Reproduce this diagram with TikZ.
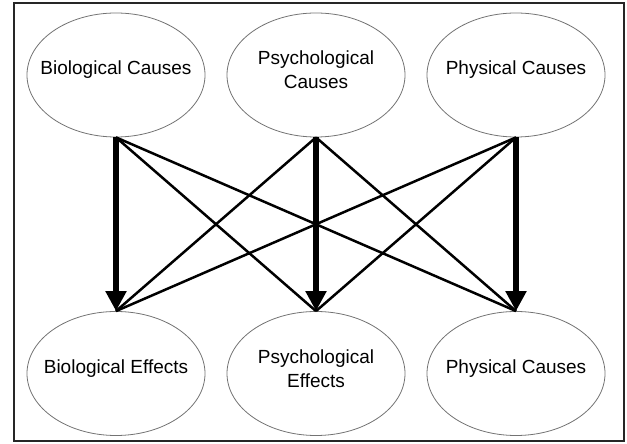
\documentclass[tikz,border=0pt]{standalone}
\usepackage{fontspec}
\setmainfont{Liberation Sans}
\usetikzlibrary{shapes.geometric}
\usetikzlibrary{arrows.meta}
\tikzset{every picture/.style={/utils/exec={\fontsize{19bp}{24bp}\selectfont}}}

\begin{document}
\begin{tikzpicture}[x=1bp, y=1bp]
  \useasboundingbox (0,0) rectangle (627,444);
  \draw [line width=2bp, black!85] (14,2.5) rectangle (624,441);

  \begin{scope}[every node/.style={ellipse, draw=black!55, line width=0.8bp, minimum width=178bp, minimum height=124bp, inner sep=0pt}]
    \node (biocause) at (116,369) {};
    \node (psychcause) at (316,369) {};
    \node (physcause) at (516,369) {};
    \node (bioeffect) at (116,70.5) {};
    \node (psycheffect) at (316,70.5) {};
    \node (physeffect) at (516,70.5) {};
  \end{scope}

  \begin{scope}[every node/.style={align=center, inner sep=0pt, yshift=5bp}]
    \node (biocause-txt) at (biocause) {Biological Causes};
    \node (psychcause-txt) at (psychcause) {Psychological\\Causes};
    \node (physcause-txt) at (physcause) {Physical Causes};
    \node (bioeffect-txt) at (bioeffect) {Biological Effects};
    \node (psycheffect-txt) at (psycheffect) {Psychological\\Effects};
    \node (physeffect-txt) at (physeffect) {Physical Causes};
  \end{scope}

  % cross links
  \begin{scope}[line width=2.5bp]
    \draw (biocause.south) -- (psycheffect.north);
    \draw (biocause.south) -- (physeffect.north);
    \draw (psychcause.south) -- (bioeffect.north);
    \draw (psychcause.south) -- (physeffect.north);
    \draw (physcause.south) -- (bioeffect.north);
    \draw (physcause.south) -- (psycheffect.north);
  \end{scope}

  % straight links
  \begin{scope}[line width=6.5bp, -{Triangle[width=20bp, length=20bp]}]
    \draw (biocause.south) -- (bioeffect.north);
    \draw (psychcause.south) -- (psycheffect.north);
    \draw (physcause.south) -- (physeffect.north);
  \end{scope}

\end{tikzpicture}
\end{document}
